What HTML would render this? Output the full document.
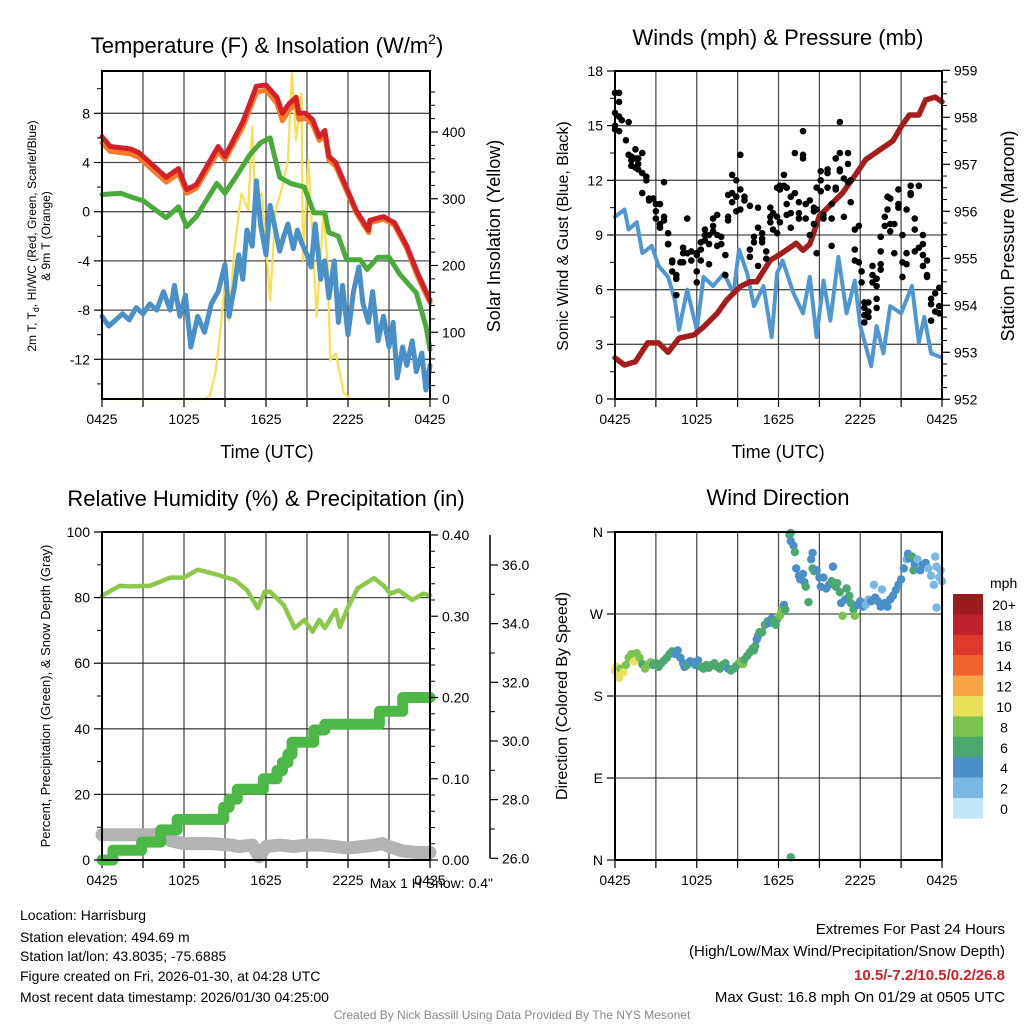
<!DOCTYPE html>
<html><head><meta charset="utf-8"><style>
body{margin:0;background:#fff;}
svg{display:block;font-family:"Liberation Sans",Arial,sans-serif;}
</style></head><body>
<svg id="fig" width="1024" height="1024" viewBox="0 0 1024 1024">
<rect width="1024" height="1024" fill="#fff"/>
<g id="p1"></g>
<g id="p2"></g>
<g id="p3"></g>
<g id="p4"></g>
<text x="267" y="53" font-size="22" text-anchor="middle">Temperature (F) &amp; Insolation (W/m<tspan dy="-9" font-size="14">2</tspan><tspan dy="9">)</tspan></text>
<text x="778" y="45" font-size="22" text-anchor="middle">Winds (mph) &amp; Pressure (mb)</text>
<text x="266" y="506" font-size="22" text-anchor="middle">Relative Humidity (%) &amp; Precipitation (in)</text>
<text x="778" y="505" font-size="22" text-anchor="middle">Wind Direction</text>
<text x="267" y="458" font-size="18" text-anchor="middle">Time (UTC)</text>
<text x="778" y="458" font-size="18" text-anchor="middle">Time (UTC)</text>
<g font-size="12" text-anchor="middle">
<text transform="translate(36,236) rotate(-90)">2m T, T<tspan font-size="9" dy="3">d</tspan><tspan dy="-3">, HI/WC (Red, Green, Scarlet/Blue)</tspan></text>
<text transform="translate(50,236) rotate(-90)">&amp; 9m T (Orange)</text></g>
<text transform="translate(500,236) rotate(-90)" font-size="18" text-anchor="middle">Solar Insolation (Yellow)</text>
<text transform="translate(568,236) rotate(-90)" font-size="16" text-anchor="middle">Sonic Wind &amp; Gust (Blue, Black)</text>
<text transform="translate(1014,236) rotate(-90)" font-size="18" text-anchor="middle">Station Pressure (Maroon)</text>
<text transform="translate(50,696) rotate(-90)" font-size="13" text-anchor="middle">Percent, Precipitation (Green), &amp; Snow Depth (Gray)</text>
<text transform="translate(567,696) rotate(-90)" font-size="16" text-anchor="middle">Direction (Colored By Speed)</text>
<text x="493" y="888" font-size="14" text-anchor="end">Max 1 H Snow: 0.4"</text>
<g font-size="14">
<text x="20" y="920">Location: Harrisburg</text>
<text x="20" y="942">Station elevation: 494.69 m</text>
<text x="20" y="961">Station lat/lon: 43.8035; -75.6885</text>
<text x="20" y="981">Figure created on Fri, 2026-01-30, at 04:28 UTC</text>
<text x="20" y="1002">Most recent data timestamp: 2026/01/30 04:25:00</text></g>
<g font-size="15" text-anchor="end">
<text x="1005" y="934">Extremes For Past 24 Hours</text>
<text x="1005" y="956">(High/Low/Max Wind/Precipitation/Snow Depth)</text>
<text x="1005" y="980" fill="#d0202a" font-weight="bold">10.5/-7.2/10.5/0.2/26.8</text>
<text x="1005" y="1002">Max Gust: 16.8 mph On 01/29 at 0505 UTC</text></g>
<text x="512" y="1019" font-size="12" fill="#888" text-anchor="middle">Created By Nick Bassill Using Data Provided By The NYS Mesonet</text>
</svg>
<script>
// ---- data ----
const timeLabels=["0425","1025","1625","2225","0425"];
const redT=[0,0.6,2.1,2.7,4.7,5.6,6.2,6.9,8.5,9.0,10.3,11.3,12.0,12.8,13.2,13.7,14.2,14.4,14.9,15.4,15.9,16.3,16.6,17.1,18.6,19.5,19.6,20.6,21.4,22.3,23.1,24];
const redV=[6.1,5.3,5.1,4.8,2.8,3.5,1.8,2.2,5.3,4.5,7.3,10.2,10.3,9.3,8.0,8.8,9.3,8.0,8.0,7.5,6.1,6.6,4.5,4.0,0.1,-1.5,-0.7,-0.4,-0.9,-2.8,-5.0,-7.2];
const orangeV=[5.6,4.9,4.7,4.4,2.4,3.1,1.5,1.9,4.9,4.2,6.9,9.7,9.9,8.8,7.4,8.3,8.8,7.5,7.6,7.1,5.8,6.2,4.2,3.7,-0.1,-1.7,-0.9,-0.6,-1.1,-3.0,-5.3,-7.4];
const greenT=[0,1.4,2.1,3,4.7,5.6,6.2,6.9,8.4,9.0,9.9,10.8,11.6,12.3,13.0,13.8,14.8,15.5,16.3,16.6,17.3,17.9,18.9,19.4,20.2,21.0,21.8,23.0,23.7,24];
const greenV=[1.4,1.5,1.2,0.9,-0.5,0.4,-1.2,-0.4,2.3,1.5,3.0,4.6,5.6,6.0,2.8,2.3,2.0,-0.1,-0.1,-1.7,-2.0,-3.9,-3.9,-4.7,-3.7,-3.7,-5.1,-6.6,-9.3,-11.2];
const blueT=[0,0.5,1,1.5,2,2.5,3,3.5,4,4.5,5,5.3,5.7,6.1,6.5,7,7.5,8,8.5,9,9.3,9.7,10,10.3,10.6,11,11.3,11.6,12,12.3,12.6,13,13.3,13.6,14,14.3,14.6,15,15.3,15.6,16,16.3,16.6,17,17.3,17.6,18,18.4,18.8,19.1,19.5,19.8,20.2,20.6,21,21.3,21.6,22,22.3,22.7,23,23.4,23.7,24];
const blueV=[-8.5,-9.3,-8.8,-8.3,-8.8,-7.8,-8.3,-7.5,-8.0,-6.5,-8.0,-6.0,-8.5,-6.8,-11.0,-8.5,-9.8,-7.5,-6.5,-4.3,-8.5,-6.0,-3.5,-5.5,-1.5,-2.8,2.5,-1.0,-3.5,0.5,-1.0,-3.2,-2.0,-1.0,-3.0,-1.5,-2.5,-3.5,-4.5,-1.0,-5.5,-4.0,-7.0,-4.0,-9.0,-6.0,-10.0,-6.5,-4.5,-7.5,-9.0,-6.5,-10.5,-8.5,-11.0,-9.0,-13.5,-11.0,-12.5,-10.5,-13.0,-11.5,-14.5,-12.5];
const solarT=[0,7.5,7.9,8.3,8.6,9.1,9.3,9.7,10.2,10.7,11.0,11.2,11.7,12.3,12.7,13.2,13.6,13.9,14.2,14.6,14.7,15.1,15.7,16.2,16.5,16.7,17.1,17.7,18.2,24];
const solarV=[0,0,5,40,90,198,118,228,308,283,408,298,308,148,283,318,358,488,388,458,208,358,123,278,208,58,68,9,0,0];
const windT=[0,0.7,1.0,1.6,2.0,2.7,3.2,3.9,4.4,4.7,5.3,6.0,6.5,7.2,8.0,8.7,9.1,9.7,10.2,10.9,11.5,11.9,12.3,13.1,13.8,14.3,14.8,15.3,15.8,16.4,17.0,17.6,18.0,18.8,19.2,19.7,20.2,21.0,21.8,22.3,22.7,23.2,23.9];
const windV=[10.0,10.4,9.3,9.7,8.0,8.4,7.3,6.7,5.4,3.8,6.0,3.8,6.7,6.2,6.9,5.8,8.2,6.9,5.1,6.2,3.4,6.9,7.6,5.8,4.7,6.7,3.4,6.5,4.3,7.8,4.7,6.5,4.0,1.8,4.0,2.5,5.1,4.7,6.2,3.1,4.5,2.5,2.3];
const gustT=[0,0,0,0,0.3,0.3,0.3,0.3,0.5,0.8,1.0,1.0,1.2,1.2,1.2,1.5,1.5,1.5,1.7,1.7,1.7,2,2,2,2.3,2.3,2.5,2.5,2.8,2.8,3.0,3.0,3.0,3.3,3.3,3.3,3.6,3.6,3.6,3.9,3.9,3.9,4.2,4.2,4.2,4.5,4.5,4.5,4.8,5.0,5.0,5.0,5.3,5.3,5.6,5.6,6.0,6.0,6.0,6.0,6.3,6.3,6.3,6.6,6.6,6.6,6.9,6.9,6.9,7.2,7.2,7.2,7.5,7.5,7.5,7.8,7.8,8.1,8.1,8.3,8.3,8.3,8.6,8.6,8.6,8.9,8.9,8.9,9.2,9.2,9.2,9.5,9.5,9.9,9.9,9.9,10.2,10.2,10.5,10.5,10.5,10.8,10.8,10.8,11.1,11.1,11.4,11.4,11.4,11.6,11.6,11.9,11.9,11.9,12.1,12.1,12.1,12.4,12.4,12.6,12.6,12.6,12.9,12.9,12.9,13.2,13.2,13.5,13.5,13.5,13.8,13.8,13.8,14.0,14.0,14.3,14.3,14.6,14.6,14.6,14.8,14.8,14.8,15.1,15.1,15.1,15.3,15.3,15.6,15.6,15.6,15.9,15.9,15.9,16.2,16.2,16.2,16.5,16.5,16.5,16.5,16.8,16.8,17.1,17.1,17.1,17.3,17.3,17.6,17.6,17.6,17.9,17.9,18.1,18.1,18.3,18.3,18.3,18.3,18.6,18.6,18.6,18.9,18.9,18.9,19.2,19.2,19.2,19.2,19.5,19.5,19.5,19.5,19.8,19.8,20.0,20.0,20.2,20.2,20.2,20.5,20.5,20.8,20.8,20.8,21.1,21.1,21.1,21.4,21.4,21.4,21.7,21.7,21.7,22.0,22.0,22.0,22.3,22.3,22.6,22.6,22.6,22.6,22.9,22.9,22.9,23.2,23.2,23.2,23.5,23.5,23.8,23.8,23.8];
const gustV=[16.8,15.0,14.8,15.7,16.3,15.5,16.8,14.7,15.3,14.2,15.2,13.4,13.3,13.1,12.8,13.7,13.2,12.7,13.2,12.6,12.9,11.3,13.5,12.4,12.2,12.0,11.0,10.9,11.0,11.0,9.9,10.3,10.7,9.6,9.4,10.7,11.9,10.0,9.8,8.5,8.5,9.1,7.5,7.0,7.6,5.7,6.6,6.8,7.5,8.3,8.0,7.5,8.0,9.9,8.1,7.6,8.0,7.9,6.4,7.0,8.2,7.6,8.6,9.3,9.0,8.7,9.0,8.5,7.4,9.5,9.9,9.2,10.1,9.0,8.4,8.5,8.9,7.9,6.8,9.8,10.0,11.2,12.3,11.3,10.8,11.1,10.3,12.0,13.4,11.5,10.4,10.9,11.1,10.6,8.2,7.8,8.6,8.9,7.3,9.4,10.5,8.8,9.1,8.6,7.7,8.1,10.0,10.5,9.7,9.3,10.2,10.0,9.1,11.6,11.5,11.7,9.7,12.3,11.7,11.6,10.7,10.1,9.4,11.1,10.2,13.5,11.3,10.2,9.9,10.8,13.2,13.4,14.7,9.9,10.7,9.0,10.9,10.5,9.6,10.3,8.0,11.6,10.4,12.5,12.0,11.4,10.1,9.9,11.6,12.6,12.4,8.4,9.9,10.7,11.5,13.2,11.6,12.6,13.5,15.2,12.5,10.0,12.1,11.9,12.9,13.5,12.0,10.8,9.3,8.2,7.6,9.5,7.5,7.0,6.4,5.3,5.0,4.6,4.2,4.8,5.3,4.5,6.8,6.4,7.3,6.6,6.2,5.5,5.0,7.1,7.4,8.1,8.9,9.5,10.0,10.4,11.1,9.6,11.0,9.2,8.0,9.6,10.7,10.5,11.5,9.0,7.5,6.7,7.4,8.0,10.4,11.2,11.3,11.7,8.1,9.3,9.9,11.7,8.3,9.0,7.9,8.5,7.3,6.8,6.7,7.6,5.5,4.3,5.2,4.8,5.8,6.1,5.1,4.7];
const presT=[0,0.7,1.5,2.4,3.2,3.9,4.7,5.8,6.5,7.5,8.2,9.2,9.9,10.4,11.4,12.2,13.3,13.8,14.3,15.0,15.7,16.7,17.7,18.4,19.4,20.4,21.0,21.6,22.3,22.8,23.5,24];
const presV=[952.88,952.73,952.8,953.2,953.2,953.0,953.3,953.37,953.54,953.83,954.11,954.4,954.5,954.5,954.96,955.1,955.32,955.17,955.3,955.9,956.1,956.39,956.8,957.1,957.3,957.5,957.8,958.05,958.05,958.37,958.43,958.33];
const rhT=[0,1.3,2.0,3.5,5.0,6.0,7.0,8.4,9.7,10.6,11.4,11.9,12.3,13.3,14.1,14.8,15.4,15.9,16.3,17.1,17.4,18.0,18.7,19.9,20.6,21.1,21.7,22.7,23.5,24];
const rhV=[80.6,83.6,83.4,83.6,86.1,86.1,88.5,87.0,85.4,82.3,76.8,81.8,81.8,77.7,70.7,73.2,69.6,73.2,70.7,76.2,71,77.1,82.8,85.9,83.7,81.2,82.2,79.3,81.2,80.7];
const precipT=[0,0.8,2.9,4.3,5.5,8.9,9.3,9.9,11.8,12.8,13.2,13.6,13.9,15.5,16.3,20.3,22.0,24];
const precipV=[0,0.012,0.022,0.037,0.05,0.065,0.075,0.087,0.10,0.11,0.12,0.13,0.145,0.16,0.167,0.183,0.20,0.20];
const snowT=[0,4.5,5,6,8,9.5,10,11,11.5,12,13,14,15,16,17,18,19,20,20.5,21,22,23,24];
const snowV=[26.8,26.8,26.6,26.5,26.5,26.45,26.4,26.45,26.05,26.4,26.45,26.4,26.45,26.45,26.4,26.35,26.4,26.45,26.5,26.4,26.25,26.2,26.2];
const dirT=[0.0,0.1,0.2,0.3,0.4,0.6,0.8,1.0,1.2,1.4,1.6,1.8,2.0,2.2,2.4,2.6,2.8,3.0,3.2,3.4,3.6,3.8,4.0,4.2,4.4,4.6,4.8,5.0,5.1,5.3,5.5,5.7,5.9,6.1,6.3,6.5,6.7,6.9,7.1,7.3,7.5,7.7,7.9,8.1,8.3,8.5,8.7,8.9,9.1,9.2,9.4,9.5,9.7,9.9,10.1,10.2,10.3,10.4,10.5,10.6,10.8,11.0,11.2,11.3,11.5,11.6,11.8,11.9,12.1,12.2,12.3,12.4,12.5,12.8,12.9,12.9,13.1,13.2,12.9,13.3,13.5,13.6,13.8,13.9,14.0,14.2,14.4,14.5,14.5,14.6,14.8,15.0,15.1,15.3,15.5,15.7,15.9,16.0,16.2,16.3,16.5,16.6,16.7,16.9,17.0,17.2,17.3,17.5,17.6,17.8,18.0,18.2,18.4,18.6,18.8,19.0,19.1,19.3,19.5,19.6,19.8,20.0,20.2,20.4,20.6,20.8,21.0,21.2,21.4,21.5,21.6,21.8,21.9,22.0,22.2,22.4,22.6,22.8,23.0,23.2,23.4,23.5,23.6,23.6,23.8,23.9,24.0];
const dirD=[208,212,204,200,210,206,214,222,226,218,227,222,215,210,214,217,214,216,212,216,219,222,226,229,226,230,222,216,212,214,218,217,214,219,212,210,214,211,214,216,212,210,214,216,210,208,210,213,216,218,215,220,224,228,232,230,235,242,246,250,250,258,262,260,265,262,258,264,268,272,277,280,275,357,359,350,345,338,3,320,312,308,314,305,300,283,330,337,320,317,318,310,300,310,298,302,306,322,300,304,294,282,268,286,298,290,282,275,268,280,284,278,280,286,284,302,288,284,278,297,282,278,286,290,296,302,308,320,330,336,331,333,318,325,330,318,324,326,320,312,302,333,322,277,310,318,306];
const dirS=[10,10,10,10,9,10,8,8,8,10,8,8,7,8,8,8,7,6,6,6,6,6,6,6,4,4,4,4,5,6,4,4,4,4,6,6,6,6,6,6,6,6,6,6,4,6,6,6,6,8,8,6,6,6,6,6,6,4,4,6,6,6,6,4,4,6,6,6,8,8,8,4,6,6,6,4,4,6,6,4,4,4,4,4,6,6,4,4,6,6,4,4,4,4,4,4,6,4,6,6,6,4,8,4,6,6,6,6,8,4,4,4,2,2,4,2,4,4,4,2,4,4,4,4,4,4,4,4,2,4,4,6,6,4,2,4,4,4,2,2,2,2,2,2,2,2,2];
const spdLabels=["0","2","4","6","8","10","12","14","16","18","20+"];
const spdColors=["#c4e5f7","#7ab8e4","#4a8fc8","#4aa870","#7cc24e","#e8e05a","#f7a446","#f0622b","#e0392b","#c0202a","#9b1b1e"];

// ---- helpers ----
const NS="http://www.w3.org/2000/svg";
function mk(parent,tag,attrs){const e=document.createElementNS(NS,tag);for(const k in attrs)e.setAttribute(k,attrs[k]);parent.appendChild(e);return e;}
function lin(d0,d1,r0,r1){return v=>r0+(v-d0)*(r1-r0)/(d1-d0);}
function pathD(ts,vs,sx,sy,step){let d="";for(let i=0;i<ts.length;i++){const x=sx(ts[i]).toFixed(1),y=sy(vs[i]).toFixed(1);if(i===0)d+="M"+x+","+y;else if(step)d+="H"+x+"V"+y;else d+="L"+x+","+y;}return d;}

function frame(g,L,R,T,B,hy){
  // vertical gridlines every 3 hours
  const sx=lin(0,24,L,R);
  for(let h=3;h<24;h+=3){const l=mk(g,"line",{x1:sx(h),x2:sx(h),y1:T,y2:B,stroke:"#222","stroke-width":1.3,"stroke-opacity":0.8});
    
    }
  hy.forEach(y=>{const l=mk(g,"line",{x1:L,x2:R,y1:y,y2:y,stroke:"#222","stroke-width":1.3,"stroke-opacity":0.8});
    
    });
  for(let h=0;h<=24;h+=3){const l=mk(g,"line",{x1:sx(h),x2:sx(h),y1:B,y2:B+8,stroke:"#000","stroke-width":1.2});
    
    }
  timeLabels.forEach((s,i)=>{const t=mk(g,"text",{x:sx(i*6),y:B+25,"font-size":14,"text-anchor":"middle"});t.textContent=s;
    
    });
  return sx;
}
function border(g,L,R,T,B){const r=mk(g,"rect",{x:L,y:T,width:R-L,height:B-T,fill:"none",stroke:"#000","stroke-width":2});
  
  }
function yAxis(g,x,vals,sy,labels,side,minor){
  const dir=side==="left"?-1:1;
  vals.forEach((v,i)=>{const y=sy(v);const l=mk(g,"line",{x1:x,x2:x+dir*8,y1:y,y2:y,stroke:"#000","stroke-width":1.2});
    
    
    const t=mk(g,"text",{x:x+dir*12,y:y+5,"font-size":14,"text-anchor":side==="left"?"end":"start"});t.textContent=labels[i];
    
    });
  (minor||[]).forEach(v=>{const y=sy(v);const l=mk(g,"line",{x1:x,x2:x+dir*5,y1:y,y2:y,stroke:"#000","stroke-width":1});
    
    });
}
function line(g,ts,vs,sx,sy,color,w,name,step){const p=mk(g,"path",{d:pathD(ts,vs,sx,sy,step),fill:"none",stroke:color,"stroke-width":w,"stroke-linejoin":"round","stroke-linecap":"round"});
  
  return p;}

// ---- panel 1 ----
{const g=document.getElementById("p1");const L=102,R=430,T=71,B=399;
 const sy=lin(0,8,211.7,113.3);const sy2=lin(0,400,399,132);
 const sx=frame(g,L,R,T,B,[-12,-8,-4,0,4,8].map(sy));
 line(g,solarT,solarV,sx,sy2,"#f7df4f",2.2,"solar-insolation-line");
 line(g,blueT,blueV,sx,sy,"#4a90c8",5,"wind-chill-line");
 line(g,greenT,greenV,sx,sy,"#4aab3c",5,"dewpoint-line");
 line(g,redT,orangeV,sx,sy,"#f47d2b",5,"temp-9m-line");
 line(g,redT,redV,sx,sy,"#d62027",5,"temp-2m-line");
 border(g,L,R,T,B);
 yAxis(g,L,[-12,-8,-4,0,4,8],sy,["-12","-8","-4","0","4","8"],"left",[-14,-10,-6,-2,2,6,10]);
 yAxis(g,R,[0,100,200,300,400],sy2,["0","100","200","300","400"],"right",[20,40,60,80,120,140,160,180,220,240,260,280,320,340,360,380,420,440,460]);}
// ---- panel 2 ----
{const g=document.getElementById("p2");const L=615,R=942,T=71,B=399;
 const sy=lin(0,18,399,71);const sy2=lin(952,959,399.3,70.3);
 const sx=frame(g,L,R,T,B,[3,6,9,12,15].map(sy));
 line(g,windT,windV,sx,sy,"#4f97d3",4,"sonic-wind-line");
 line(g,presT,presV,sx,sy2,"#a51c1c",5.5,"pressure-line");
 gustT.forEach((t,i)=>{const c=mk(g,"circle",{cx:sx(t),cy:sy(gustV[i]),r:3.3,fill:"#000"});
   
   });
 border(g,L,R,T,B);
 yAxis(g,L,[0,3,6,9,12,15,18],sy,["0","3","6","9","12","15","18"],"left",[1.5,4.5,7.5,10.5,13.5,16.5]);
 yAxis(g,R,[952,953,954,955,956,957,958,959],sy2,["952","953","954","955","956","957","958","959"],"right",[952.25,952.5,952.75,953.25,953.5,953.75,954.25,954.5,954.75,955.25,955.5,955.75,956.25,956.5,956.75,957.25,957.5,957.75,958.25,958.5,958.75]);}
// ---- panel 3 ----
{const g=document.getElementById("p3");const L=102,R=430,T=532,B=860;
 const sy=lin(0,100,860,532);const sy2=lin(0,0.4,860,535);const sy3=lin(26,36,858.3,565);
 const sx=frame(g,L,R,T,B,[20,40,60,80].map(sy));
 line(g,snowT,snowV,sx,sy3,"#b3b3b3",13,"snow-depth-line");
 line(g,precipT,precipV,sx,sy2,"#4db848",11,"precipitation-line",true);
 line(g,rhT,rhV,sx,sy,"#8ec84a",4.5,"humidity-line");
 border(g,L,R,T,B);
 yAxis(g,L,[0,20,40,60,80,100],sy,["0","20","40","60","80","100"],"left",[10,30,50,70,90]);
 yAxis(g,R,[0,0.1,0.2,0.3,0.4],sy2,["0.00","0.10","0.20","0.30","0.40"],"right",[0.02,0.04,0.06,0.08,0.12,0.14,0.16,0.18,0.22,0.24,0.26,0.28,0.32,0.34,0.36,0.38]);
 const ax=mk(g,"line",{x1:490,x2:490,y1:535,y2:858,stroke:"#000","stroke-width":1.5});
 
 
 yAxis(g,490,[26,28,30,32,34,36],sy3,["26.0","28.0","30.0","32.0","34.0","36.0"],"right",[27,29,31,33,35]);}
// ---- panel 4 ----
{const g=document.getElementById("p4");const L=615,R=942,T=532,B=860;
 const sy=lin(0,360,860,532);
 const sx=frame(g,L,R,T,B,[90,180,270].map(sy));
 dirT.forEach((t,i)=>{const k=Math.min(10,Math.floor(dirS[i]/2));const c=mk(g,"circle",{cx:sx(t),cy:sy(dirD[i]),r:4.2,fill:spdColors[k]});
   
   });
 border(g,L,R,T,B);
 yAxis(g,L,[0,90,180,270,360],sy,["N","E","S","W","N"],"left");
 const lg=mk(g,"g",{});
 
 
 const t0=mk(lg,"text",{x:990,y:588,"font-size":14});t0.textContent="mph";
 
 
 for(let i=0;i<11;i++){const k=10-i;const y=594+i*20.4;
   const r=mk(lg,"rect",{x:953,y:y,width:30,height:20.6,fill:spdColors[k]});
   
   
   const t=mk(lg,"text",{x:1004,y:y+16,"font-size":14,"text-anchor":"middle"});t.textContent=spdLabels[k];
   
   }}
</script>
</body></html>
